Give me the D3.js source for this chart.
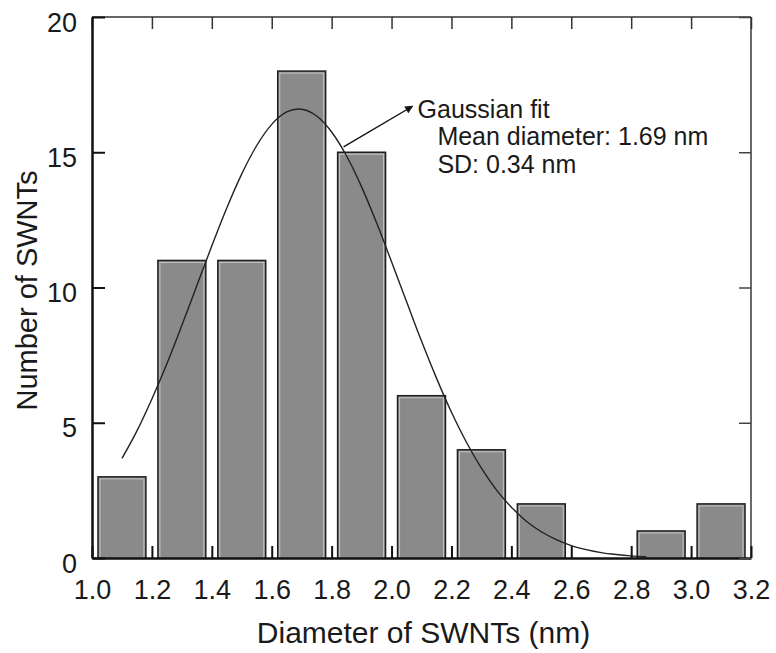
<!DOCTYPE html>
<html>
<head>
<meta charset="utf-8">
<script src="https://cdn.jsdelivr.net/npm/d3@7"></script>
<style>
  body { margin: 0; background: #fff; }
  text { font-family: "Liberation Sans", Arial, sans-serif; fill: #1a1a1a; }
</style>
</head>
<body>
<div id="chart"></div>
<script>
// Histogram bins (left edge, nm) and counts
const binStarts = [1.0, 1.2, 1.4, 1.6, 1.8, 2.0, 2.2, 2.4, 2.6, 2.8, 3.0];
const counts = [3, 11, 11, 18, 15, 6, 4, 2, 0, 1, 2];
const binWidth = 0.2;

// Gaussian fit curve
const fitX = [1.10, 1.15, 1.20, 1.25, 1.30, 1.35, 1.40, 1.45, 1.50, 1.55, 1.60, 1.65, 1.69,
              1.75, 1.80, 1.85, 1.90, 1.95, 2.00, 2.05, 2.10, 2.15, 2.20, 2.25, 2.30, 2.35,
              2.40, 2.45, 2.50, 2.55, 2.60, 2.65, 2.70, 2.75, 2.80, 2.85];
const fitY = [3.68, 4.70, 5.88, 7.18, 8.60, 10.07, 11.54, 12.94, 14.20, 15.25, 16.03, 16.49, 16.6,
              16.34, 15.75, 14.86, 13.72, 12.39, 10.95, 9.48, 8.02, 6.65, 5.39, 4.28, 3.32, 2.52,
              1.88, 1.36, 0.97, 0.68, 0.46, 0.31, 0.20, 0.13, 0.08, 0.05];

const xTicks = [1.0, 1.2, 1.4, 1.6, 1.8, 2.0, 2.2, 2.4, 2.6, 2.8, 3.0, 3.2];
const yTicks = [0, 5, 10, 15, 20];

const annotation = ["Gaussian fit", "Mean diameter: 1.69 nm", "SD: 0.34 nm"];

const width = 776, height = 653;
const margin = { top: 17, right: 25, bottom: 95, left: 92 };

const svg = d3.select("#chart").append("svg")
  .attr("width", width)
  .attr("height", height);

const x = d3.scaleLinear()
  .domain([1.0, 3.2])
  .range([margin.left, width - margin.right]);

const y = d3.scaleLinear()
  .domain([0, 20])
  .range([height - margin.bottom, margin.top]);

// Bars
const gap = 6;
const bars = svg.append("g");
binStarts.forEach((b, i) => {
  if (counts[i] === 0) return;
  const x0 = x(b) + gap, x1 = x(b + binWidth) - gap;
  bars.append("rect")
    .attr("x", x0)
    .attr("y", y(counts[i]))
    .attr("width", x1 - x0)
    .attr("height", y(0) - y(counts[i]))
    .attr("fill", "#8a8a8a")
    .attr("stroke", "#1e1e1e")
    .attr("stroke-width", 1.5);
  bars.append("rect")
    .attr("x", x0 + 2)
    .attr("y", y(counts[i]) + 2)
    .attr("width", x1 - x0 - 4)
    .attr("height", y(0) - y(counts[i]) - 2)
    .attr("fill", "none")
    .attr("stroke", "#c4c4c4")
    .attr("stroke-width", 1);
});

// Gaussian fit
const line = d3.line()
  .x((d, i) => x(fitX[i]))
  .y(d => y(d))
  .curve(d3.curveMonotoneX);

svg.append("path")
  .datum(fitY)
  .attr("fill", "none")
  .attr("stroke", "#222")
  .attr("stroke-width", 1.4)
  .attr("d", line);

// Frame (top / right)
svg.append("line")
  .attr("x1", x(1.0)).attr("x2", x(3.2))
  .attr("y1", y(20)).attr("y2", y(20))
  .attr("stroke", "#333").attr("stroke-width", 1.6);
svg.append("line")
  .attr("x1", x(3.2)).attr("x2", x(3.2))
  .attr("y1", y(20)).attr("y2", y(0))
  .attr("stroke", "#444").attr("stroke-width", 1.6);

// Axes (ticks pointing inward)
const xAxis = svg.append("g")
  .attr("transform", `translate(0,${y(0)})`)
  .call(d3.axisBottom(x).tickValues(xTicks).tickFormat(d3.format(".1f"))
    .tickSizeInner(-12).tickSizeOuter(0).tickPadding(22));
xAxis.select(".domain").attr("stroke", "#111").attr("stroke-width", 2.5);
xAxis.selectAll(".tick line").attr("stroke", "#111").attr("stroke-width", 2);
xAxis.selectAll(".tick text")
  .attr("font-size", "27px")
  .attr("font-family", "Liberation Sans, Arial, sans-serif")
  .attr("fill", "#1a1a1a");

const xTop = svg.append("g")
  .attr("transform", `translate(0,${y(20)})`)
  .call(d3.axisTop(x).tickValues(xTicks).tickFormat("").tickSizeInner(-12).tickSizeOuter(0));
xTop.select(".domain").remove();
xTop.selectAll(".tick line").attr("stroke", "#333").attr("stroke-width", 1.5);

const yAxis = svg.append("g")
  .attr("transform", `translate(${x(1.0)},0)`)
  .call(d3.axisLeft(y).tickValues(yTicks)
    .tickSizeInner(-13).tickSizeOuter(0).tickPadding(15));
yAxis.select(".domain").attr("stroke", "#111").attr("stroke-width", 2.5);
yAxis.selectAll(".tick line").attr("stroke", "#111").attr("stroke-width", 2);
yAxis.selectAll(".tick text")
  .attr("font-size", "27px")
  .attr("dy", "0.52em")
  .attr("font-family", "Liberation Sans, Arial, sans-serif")
  .attr("fill", "#1a1a1a");

const yRight = svg.append("g")
  .attr("transform", `translate(${x(3.2)},0)`)
  .call(d3.axisRight(y).tickValues(yTicks).tickFormat("").tickSizeInner(-12).tickSizeOuter(0));
yRight.select(".domain").remove();
yRight.selectAll(".tick line").attr("stroke", "#444").attr("stroke-width", 1.5);

// Axis titles
svg.append("text")
  .attr("x", (x(1.0) + x(3.2)) / 2 + 2)
  .attr("y", 643)
  .attr("text-anchor", "middle")
  .attr("font-size", "30px")
  .text("Diameter of SWNTs (nm)");

svg.append("text")
  .attr("transform", `translate(37,${(y(0) + y(20)) / 2 + 3}) rotate(-90)`)
  .attr("text-anchor", "middle")
  .attr("font-size", "29px")
  .text("Number of SWNTs");

// Annotation arrow
const defs = svg.append("defs");
defs.append("marker")
  .attr("id", "arrow")
  .attr("viewBox", "0 0 10 10")
  .attr("refX", 9).attr("refY", 5)
  .attr("markerWidth", 12).attr("markerHeight", 8)
  .attr("markerUnits", "userSpaceOnUse")
  .attr("orient", "auto")
  .append("path")
  .attr("d", "M0,0 L10,5 L0,10 Z")
  .attr("fill", "#111");

svg.append("line")
  .attr("x1", x(1.84)).attr("y1", y(15.2))
  .attr("x2", x(2.07)).attr("y2", y(16.7))
  .attr("stroke", "#111")
  .attr("stroke-width", 1.4)
  .attr("marker-end", "url(#arrow)");

svg.append("text")
  .attr("x", x(2.087))
  .attr("y", y(16.25))
  .attr("font-size", "25px")
  .text(annotation[0]);
svg.append("text")
  .attr("x", x(2.153))
  .attr("y", y(15.25))
  .attr("font-size", "25px")
  .text(annotation[1]);
svg.append("text")
  .attr("x", x(2.153))
  .attr("y", y(14.25))
  .attr("font-size", "25px")
  .text(annotation[2]);
</script>
</body>
</html>
